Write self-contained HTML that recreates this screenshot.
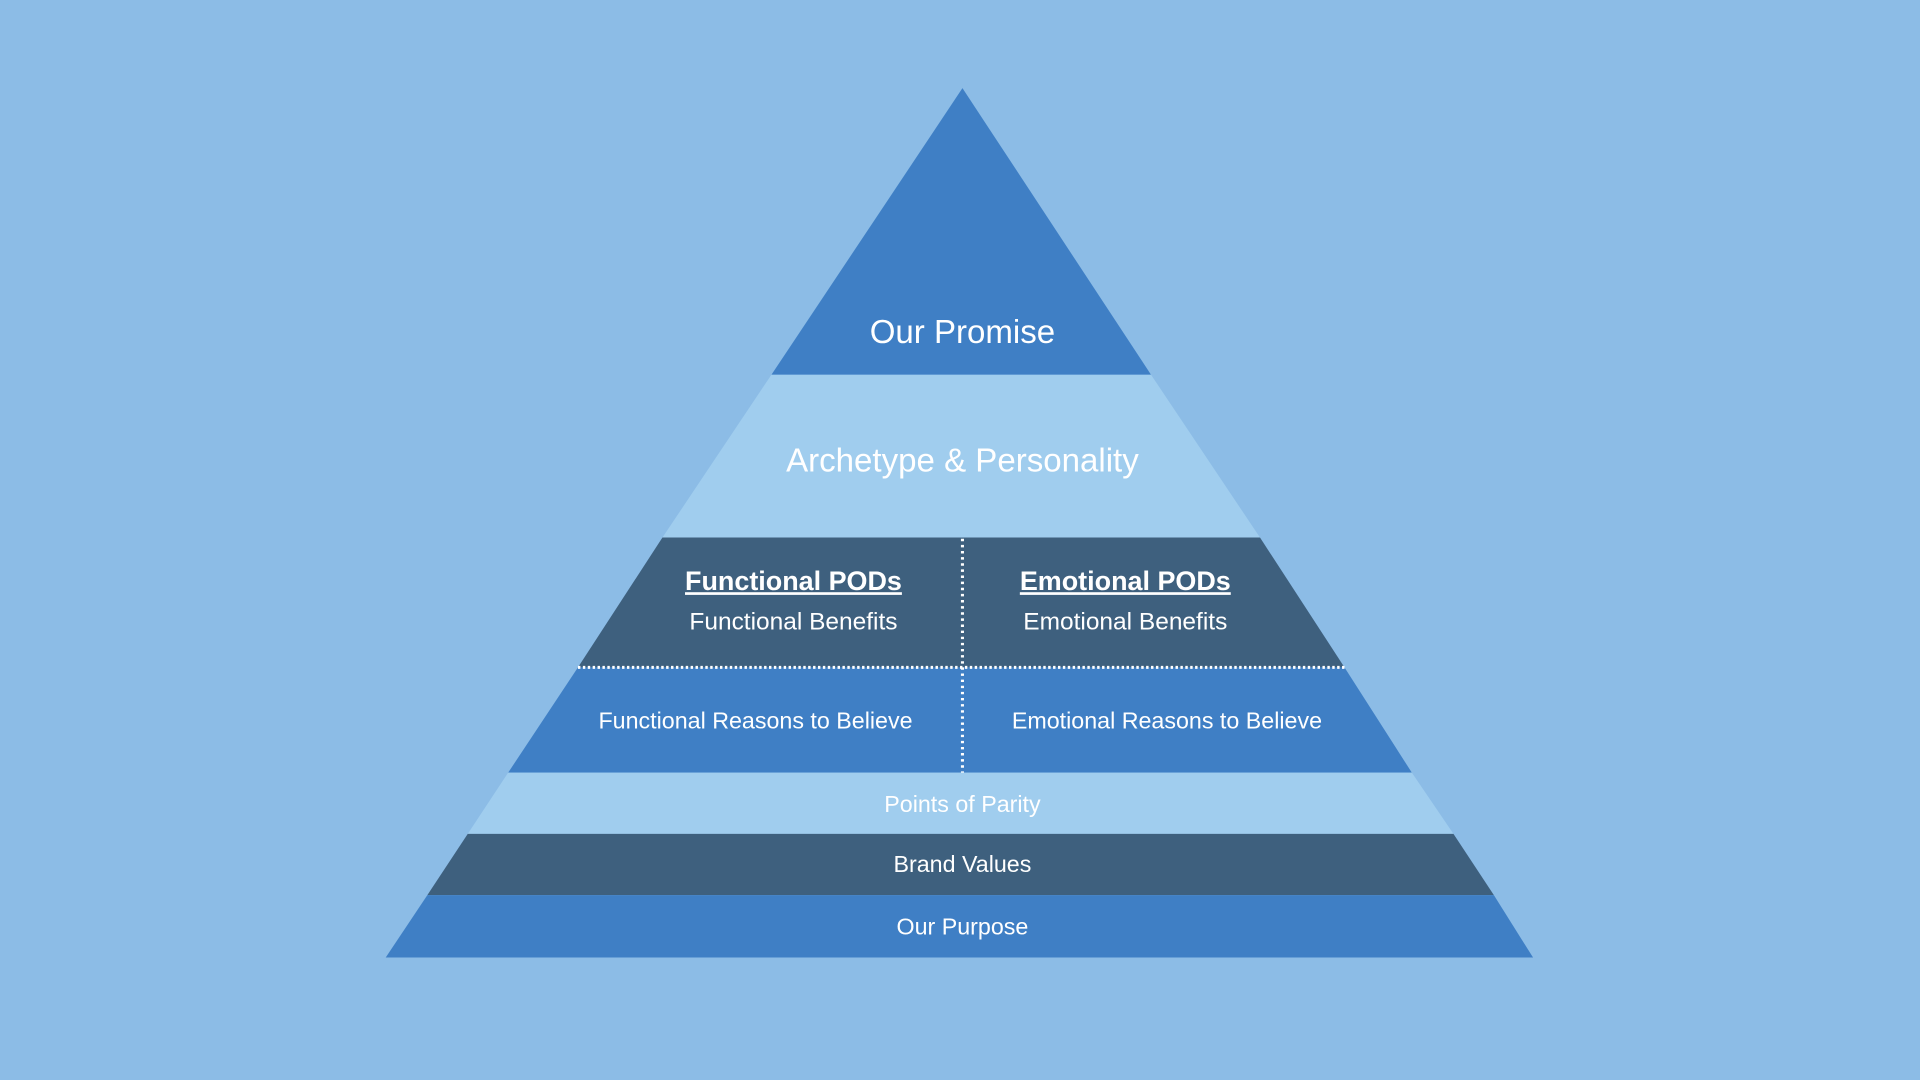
<!DOCTYPE html>
<html><head><meta charset="utf-8"><style>
html,body{margin:0;padding:0;background:#8cbce6;width:1920px;height:1080px;overflow:hidden}
svg{display:block}
text{font-family:"Liberation Sans",sans-serif;fill:#fff;text-anchor:middle}
</style></head><body>
<svg width="1920" height="1080" viewBox="0 0 1568 882" preserveAspectRatio="none">
<rect width="1568" height="882" fill="#8cbce6"/>
<polygon points="786,72 940,306 630,306" fill="#3f7fc5"/>
<polygon points="630,306 940,306 1029,439 541,439" fill="#a0cdee"/>
<polygon points="541,439 1029,439 1098,545 472,545" fill="#3e607e"/>
<polygon points="472,545 1098,545 1153,631 415,631" fill="#3f7fc5"/>
<polygon points="415,631 1153,631 1187,681 382,681" fill="#a0cdee"/>
<polygon points="382,681 1187,681 1220,731 349,731" fill="#3e607e"/>
<polygon points="349,731 1220,731 1252,782 315,782" fill="#3f7fc5"/>
<line x1="472" y1="545" x2="1098" y2="545" stroke="#fff" stroke-width="2.5" stroke-dasharray="2,2"/>
<line x1="786" y1="440" x2="786" y2="631" stroke="#fff" stroke-width="2.5" stroke-dasharray="2,3"/>
<text x="786" y="280" font-size="27">Our Promise</text>
<text x="786" y="385" font-size="27">Archetype &amp; Personality</text>
<text x="648" y="482" font-size="22" font-weight="bold" text-decoration="underline">Functional PODs</text>
<text x="648" y="514" font-size="20">Functional Benefits</text>
<text x="919" y="482" font-size="22" font-weight="bold" text-decoration="underline">Emotional PODs</text>
<text x="919" y="514" font-size="20">Emotional Benefits</text>
<text x="617" y="595" font-size="19">Functional Reasons to Believe</text>
<text x="953" y="595" font-size="19">Emotional Reasons to Believe</text>
<text x="786" y="663" font-size="19">Points of Parity</text>
<text x="786" y="712" font-size="19">Brand Values</text>
<text x="786" y="763" font-size="19">Our Purpose</text>
</svg>
</body></html>
